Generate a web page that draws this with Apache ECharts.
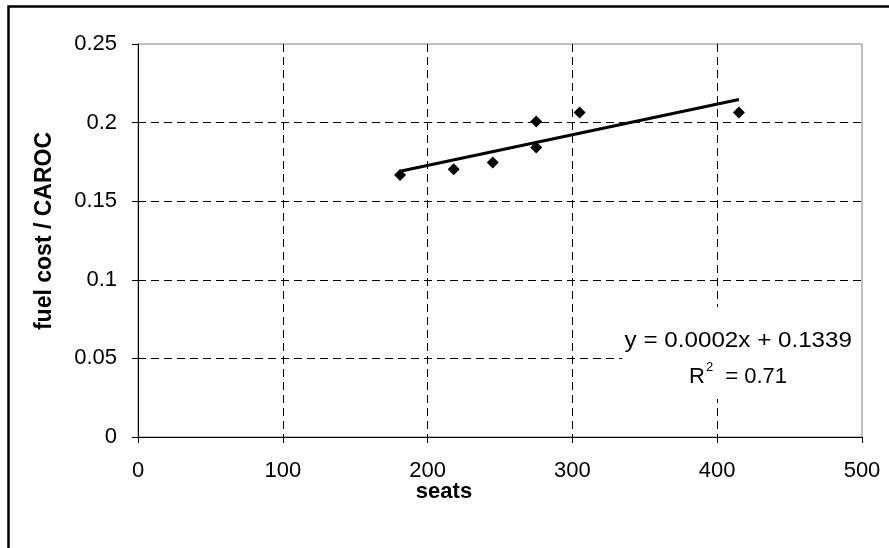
<!DOCTYPE html>
<html>
<head>
<meta charset="utf-8">
<script src="https://cdn.jsdelivr.net/npm/echarts@6/dist/echarts.min.js"></script>
<style>
html,body{margin:0;padding:0;background:#fff;}
#chart{width:889px;height:548px;}
</style>
</head>
<body>
<div id="chart"></div>
<script>
var seats = [181, 218, 245, 275, 275, 305, 415];
var fuelCostRatio = [0.1667, 0.1703, 0.1746, 0.1841, 0.2007, 0.2064, 0.2064];
var xTicks = [0, 100, 200, 300, 400, 500];
var yTicks = [0, 0.05, 0.1, 0.15, 0.2, 0.25];
var xTitle = 'seats';
var yTitle = 'fuel cost / CAROC';
var eqLine1 = 'y = 0.0002x + 0.1339';
var eqR = 'R';
var eqSup = '2';
var eqLine2 = '= 0.71';

// least-squares trend line computed from the data
var n = seats.length, mx = 0, my = 0;
for (var i = 0; i < n; i++) { mx += seats[i]; my += fuelCostRatio[i]; }
mx /= n; my /= n;
var sxy = 0, sxx = 0;
for (var i = 0; i < n; i++) { sxy += (seats[i]-mx)*(fuelCostRatio[i]-my); sxx += (seats[i]-mx)*(seats[i]-mx); }
var slope = sxy / sxx, intercept = my - slope * mx;
var xMin = Math.min.apply(null, seats), xMax = Math.max.apply(null, seats);
var trend = [[xMin, intercept + slope * xMin], [xMax, intercept + slope * xMax]];
var points = seats.map(function (s, i) { return [s, fuelCostRatio[i]]; });

var FONT = '"Liberation Sans", Arial, sans-serif';
var chart = echarts.init(document.getElementById('chart'), null, {renderer: 'canvas'});
chart.setOption({
  animation: false,
  backgroundColor: '#fff',
  grid: {left: 138, right: 27, top: 44, bottom: 111, show: true, borderColor: '#808080', borderWidth: 1, backgroundColor: '#fff'},
  xAxis: {
    type: 'value', min: xTicks[0], max: xTicks[xTicks.length-1], interval: 100,
    axisLine: {show: true, onZero: false, lineStyle: {color: '#000', width: 1}},
    axisTick: {show: true, length: 6, lineStyle: {color: '#000'}},
    axisLabel: {color: '#000', fontFamily: FONT, fontSize: 22, margin: 23},
    splitLine: {show: true, lineStyle: {color: ['#000','#000','#000','#000','#000','rgba(0,0,0,0)'], type: [8, 5], width: 1}}
  },
  yAxis: {
    type: 'value', min: yTicks[0], max: yTicks[yTicks.length-1], interval: 0.05,
    axisLine: {show: true, onZero: false, lineStyle: {color: '#000', width: 1}},
    axisTick: {show: true, length: 6, lineStyle: {color: '#000'}},
    axisLabel: {color: '#000', fontFamily: FONT, fontSize: 22, margin: 21},
    splitLine: {show: true, lineStyle: {color: ['#000','#000','#000','#000','#000','rgba(0,0,0,0)'], type: [8, 5], width: 1}}
  },
  series: [
    {type: 'scatter', data: points, symbol: 'diamond', symbolSize: 12, itemStyle: {color: '#000', opacity: 1}, z: 3},
    {type: 'line', data: trend, showSymbol: false, symbol: 'none', lineStyle: {color: '#000', width: 3}, z: 4}
  ],
  graphic: [
    {type: 'rect', shape: {x: 8.5, y: 6.5, width: 1000, height: 1000}, style: {fill: 'none', stroke: '#000', lineWidth: 2.5}, z: 100, silent: true},
    {type: 'rect', shape: {x: 622, y: 307, width: 239, height: 92}, style: {fill: '#fff'}, z: 50},
    {type: 'text', x: 852, y: 341, scaleX: 1.1, style: {text: eqLine1, fill: '#000', font: '22px ' + FONT, textAlign: 'right', textVerticalAlign: 'middle'}, z: 51},
    {type: 'text', x: 689, y: 377, style: {text: eqR, fill: '#000', font: '22px ' + FONT, textAlign: 'left', textVerticalAlign: 'middle'}, z: 51},
    {type: 'text', x: 706, y: 367, style: {text: eqSup, fill: '#000', font: '13px ' + FONT, textAlign: 'left', textVerticalAlign: 'middle'}, z: 51},
    {type: 'text', x: 787, y: 377, style: {text: eqLine2, fill: '#000', font: '22px ' + FONT, textAlign: 'right', textVerticalAlign: 'middle'}, z: 51},
    {type: 'text', x: 45, y: 231, rotation: Math.PI / 2, style: {text: yTitle, fill: '#000', font: 'bold 23px ' + FONT, textAlign: 'center', textVerticalAlign: 'middle'}, z: 51},
    {type: 'text', x: 444, y: 492, style: {text: xTitle, fill: '#000', font: 'bold 22px ' + FONT, textAlign: 'center', textVerticalAlign: 'middle'}, z: 51}
  ]
});
</script>
</body>
</html>
